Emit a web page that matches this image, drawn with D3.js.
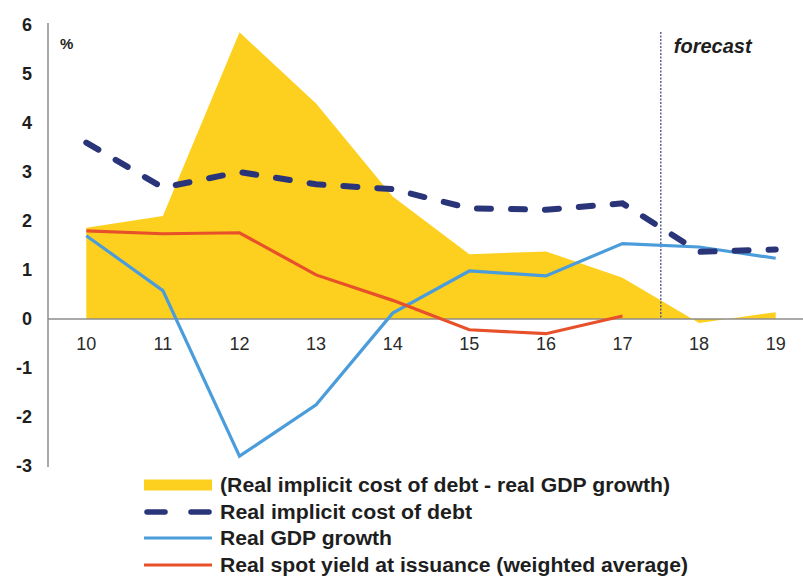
<!DOCTYPE html>
<html><head><meta charset="utf-8">
<script src="https://cdn.jsdelivr.net/npm/d3@7"></script>
<style>
html,body{margin:0;padding:0;background:#fff;}
svg{display:block;font-family:"Liberation Sans",Arial,sans-serif;}
</style></head>
<body>
<svg id="c" width="803" height="576"></svg>
<script>
const years = ["10","11","12","13","14","15","16","17","18","19"];
const gapValues = [1.86, 2.1, 5.85, 4.4, 2.5, 1.32, 1.38, 0.84, -0.08, 0.14];
const costValues = [3.6, 2.68, 3.0, 2.75, 2.65, 2.26, 2.23, 2.36, 1.37, 1.42];
const gdpValues = [1.7, 0.58, -2.8, -1.75, 0.12, 0.98, 0.88, 1.54, 1.47, 1.24];
const spotValues = [1.8, 1.74, 1.76, 0.9, 0.38, -0.22, -0.3, 0.06];
const yTicks = [-3,-2,-1,0,1,2,3,4,5,6];
const legendLabels = [
  "(Real implicit cost of debt - real GDP growth)",
  "Real implicit cost of debt",
  "Real GDP growth",
  "Real spot yield at issuance (weighted average)"
];
const legendWidths = [450, 252, 172, 468];

const svg = d3.select("#c");
const x = d3.scaleBand().domain(years).range([48, 814]);
const xc = d => x(d) + x.bandwidth()/2;
const y = d3.scaleLinear().domain([-3, 6]).range([466, 25]);

const C = {yellow:"#FDD01F", navy:"#2A3479", blue:"#4B9CDA", red:"#E8502A", axis:"#8c8c8c", text:"#1e1e1e"};

// area
const area = d3.area().x((d,i)=>xc(years[i])).y0(y(0)).y1(d=>y(d));
svg.append("path").datum(gapValues).attr("d", area).attr("fill", C.yellow);

// axes
svg.append("line").attr("x1",48).attr("x2",48).attr("y1",y(6)-2).attr("y2",y(-3)+1)
  .attr("stroke",C.axis).attr("stroke-width",1.5);
svg.append("line").attr("x1",48).attr("x2",803).attr("y1",y(0)).attr("y2",y(0))
  .attr("stroke",C.axis).attr("stroke-width",1.5);

svg.selectAll(".yt").data(yTicks).join("text")
  .attr("x",32).attr("y",d=>y(d)).attr("dy","0.36em").attr("text-anchor","end")
  .attr("font-size",18).attr("font-weight","bold").attr("fill",C.text).text(d=>d);
svg.selectAll(".xt").data(years).join("text")
  .attr("x",d=>xc(d)).attr("y",y(0)+31).attr("text-anchor","middle")
  .attr("font-size",18).attr("fill","#2a2a2a").text(d=>d);

svg.append("text").attr("x",60).attr("y",49).attr("font-size",15).attr("font-weight","bold")
  .attr("fill",C.text).text("%");

// forecast divider
const fx = (xc("17")+xc("18"))/2;
svg.append("line").attr("x1",fx).attr("x2",fx).attr("y1",32).attr("y2",y(0))
  .attr("stroke","#4a4f8a").attr("stroke-width",1.3).attr("stroke-dasharray","2,1.5");
svg.append("text").attr("x",fx+13).attr("y",53).attr("font-size",20).attr("font-weight","bold")
  .attr("font-style","italic").attr("fill",C.text).text("forecast");

const line = d3.line().x((d,i)=>xc(years[i])).y(d=>y(d));
svg.append("path").datum(gdpValues).attr("d",line).attr("fill","none")
  .attr("stroke",C.blue).attr("stroke-width",3.2);
svg.append("path").datum(spotValues).attr("d",line).attr("fill","none")
  .attr("stroke",C.red).attr("stroke-width",3.2);
svg.append("path").datum(costValues).attr("d",line).attr("fill","none")
  .attr("stroke",C.navy).attr("stroke-width",6).attr("stroke-linecap","round")
  .attr("stroke-dasharray","14,20");

// legend
const lx0 = 144, lx1 = 212, rows = [485, 512, 538, 565];
svg.append("rect").attr("x",lx0).attr("y",rows[0]-5.5).attr("width",lx1-lx0).attr("height",11).attr("fill",C.yellow);
svg.append("line").attr("x1",lx0+3).attr("x2",lx1-3).attr("y1",rows[1]).attr("y2",rows[1])
  .attr("stroke",C.navy).attr("stroke-width",5.5).attr("stroke-linecap","round").attr("stroke-dasharray","18,26");
svg.append("line").attr("x1",lx0).attr("x2",lx1).attr("y1",rows[2]).attr("y2",rows[2])
  .attr("stroke",C.blue).attr("stroke-width",3.2);
svg.append("line").attr("x1",lx0).attr("x2",lx1).attr("y1",rows[3]).attr("y2",rows[3])
  .attr("stroke",C.red).attr("stroke-width",3.2);
svg.selectAll(".lg").data(legendLabels).join("text")
  .attr("x",220).attr("y",(d,i)=>rows[i]).attr("dy","0.36em")
  .attr("font-size",20).attr("font-weight","bold").attr("fill",C.text)
  .attr("textLength",(d,i)=>legendWidths[i]).attr("lengthAdjust","spacingAndGlyphs")
  .text(d=>d);
</script>
</body></html>
